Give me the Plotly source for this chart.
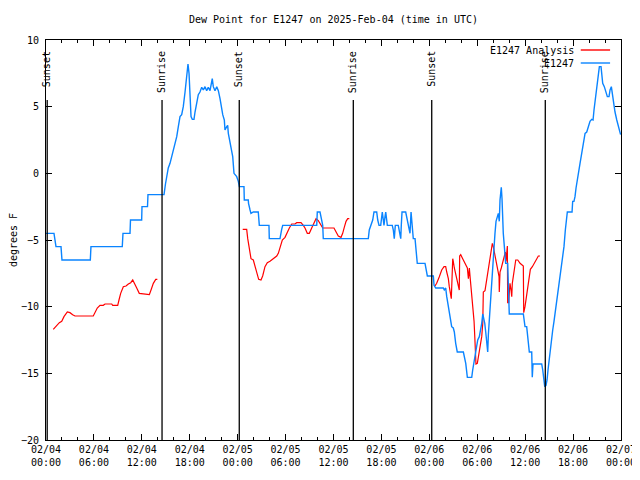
import pandas as pd
import plotly.graph_objects as go

BASE = pd.Timestamp("2025-02-04 00:00")

# E1247 observations (hours since 2025-02-04 00:00 UTC, degrees F)
obs_hours = [0, 1.0, 1.25, 1.88, 2.0, 5.55, 5.63, 9.55, 9.64, 10.52, 10.58, 11.98, 12.02, 12.71, 12.77, 14.78,
             14.96, 15.12, 15.31, 15.53, 15.74, 15.94, 16.15, 16.37, 16.57, 16.78, 16.99, 17.19, 17.41, 17.62, 17.78,
             17.91, 18.03, 18.16, 18.32, 18.53, 18.66, 18.87, 19.07, 19.28, 19.50, 19.70, 19.91, 20.12, 20.32, 20.54,
             20.75, 20.82, 20.95, 21.16, 21.38, 21.58, 21.79, 22.0, 22.13, 22.33, 22.41, 22.63, 22.75, 22.83, 23.04,
             23.25, 23.38, 23.54, 23.88, 24.08, 24.21, 24.79, 24.83, 25.33, 25.36, 25.55, 25.67, 25.96, 26.58, 26.71,
             27.92, 27.96, 29.30, 29.51, 29.64, 33.90, 33.97, 34.31, 34.40, 34.65, 34.72, 40.36, 40.48, 40.66, 40.91,
             41.07, 41.41, 41.54, 41.70, 41.91, 42.04, 42.11, 42.24, 42.32, 42.45, 42.54, 42.66, 42.74, 43.36, 43.49,
             43.61, 43.74, 44.11, 44.24, 44.42, 44.49, 44.58, 45.04, 45.17, 45.29, 45.45, 45.58, 45.71, 45.83, 45.99,
             46.21, 46.33, 46.49, 47.46, 47.58, 47.75, 48.50, 48.59, 48.80, 49.75, 49.87, 50.05, 50.18, 50.38, 50.50,
             50.68, 50.80, 51.0, 51.13, 51.30, 51.50, 52.26, 52.38, 52.56, 52.76, 53.31, 53.43, 53.60, 53.72, 53.94,
             54.06, 54.26, 54.44, 54.56, 54.69, 54.81, 54.94, 55.06, 55.19, 55.31, 55.39, 55.51, 55.60, 55.72, 55.89,
             56.01, 56.22, 56.35, 56.51, 56.64, 56.76, 56.85, 57.01, 57.10, 57.26, 57.39, 57.56, 57.81, 57.89, 58.01,
             59.77, 59.86, 59.98, 60.19, 60.27, 60.39, 60.52, 60.82, 60.89, 60.98, 62.07, 62.20, 62.32, 62.45, 62.61,
             62.74, 62.86, 62.99, 63.11, 63.28, 63.45, 63.61, 63.74, 63.86, 64.03, 64.20, 64.36, 64.53, 64.70, 64.86,
             65.03, 65.20, 65.28, 65.87, 65.95, 66.11, 66.24, 66.37, 66.53, 66.71, 66.87, 67.08, 67.28, 67.50, 67.71,
             67.91, 68.12, 68.34, 68.50, 68.62, 68.79, 68.96, 69.16, 69.29, 69.50, 69.58, 69.71, 69.91, 70.12, 70.29,
             70.50, 70.63, 70.79, 70.92, 71.04, 71.25, 71.47, 71.67, 71.80, 71.95]
obs_values = [-4.5, -4.5, -5.5, -5.5, -6.5, -6.5, -5.5, -5.5, -4.5, -4.5, -3.5, -3.5, -2.5, -2.5, -1.6, -1.6,
              -0.8, -0.25, 0.4, 0.75, 1.25, 1.5, 2.1, 2.75, 3.5, 4.25, 4.4, 5.0, 6.1, 7.5, 8.2,
              7.5, 5.5, 4.25, 4.05, 4.05, 4.6, 5.4, 5.9, 6.1, 6.45, 6.25, 6.5, 6.2, 6.45, 6.2,
              6.75, 7.1, 6.5, 6.2, 6.5, 6.2, 5.6, 4.75, 4.4, 4.0, 3.25, 3.5, 3.6, 3.0, 2.25,
              1.75, 1.25, 0.0, -0.25, -0.6, -1.0, -1.0, -2.0, -2.0, -2.25, -2.75, -3.0, -2.9, -2.9, -3.9,
              -3.9, -4.9, -4.9, -4.2, -3.9, -3.9, -2.9, -2.9, -3.25, -3.9, -4.9, -4.9, -4.25, -3.9, -3.5,
              -2.9, -2.9, -3.5, -3.9, -3.9, -3.25, -2.9, -3.5, -3.9, -3.25, -2.9, -3.5, -3.9, -3.9, -4.25,
              -4.9, -3.9, -3.9, -4.25, -4.9, -3.9, -2.9, -2.9, -3.25, -3.6, -4.25, -4.5, -2.9, -3.75, -4.9,
              -4.9, -5.75, -6.75, -6.75, -7.25, -7.7, -7.7, -8.4, -8.6, -8.6, -8.75, -8.6, -9.25, -9.9, -10.4,
              -11.0, -11.5, -11.6, -11.9, -12.75, -13.4, -13.4, -13.75, -14.25, -15.3, -15.3, -14.75, -14.1, -13.5, -13.0,
              -12.5, -12.25, -11.75, -11.25, -10.55, -10.9, -11.25, -11.9, -12.9, -13.4, -12.1, -11.0, -9.5, -8.5, -7.5,
              -5.75, -4.5, -3.6, -3.25, -3.0, -3.6, -2.0, -1.05, -1.9, -4.5, -5.75, -6.75, -6.75, -8.25, -10.55,
              -10.55, -11.1, -11.5, -11.5, -12.0, -12.75, -13.4, -13.4, -15.3, -14.3, -14.3, -14.75, -15.5, -16.0, -15.9,
              -15.5, -14.75, -14.0, -13.25, -12.5, -11.75, -11.1, -10.5, -9.9, -9.25, -8.5, -7.75, -6.75, -6.1, -5.5,
              -4.25, -3.5, -2.9, -2.9, -2.1, -2.1, -1.75, -1.1, -0.4, 0.25, 0.75, 1.5, 2.25, 3.0, 3.1,
              3.6, 3.9, 4.05, 4.0, 4.75, 5.6, 6.6, 7.5, 8.0, 8.0, 7.6, 6.75, 6.5, 6.1, 5.75,
              5.75, 6.25, 6.5, 5.9, 5.5, 4.6, 4.0, 3.5, 3.1, 2.9]

# E1247 Analysis (None separates the gaps)
ana_hours = [0.91, 1.25, 1.67, 1.97, 2.25, 2.67, 3.0, 3.34, 3.63, 5.92, 6.14, 6.42, 6.76, 7.17, 7.39, 8.23, 8.35,
             8.98, 9.14, 9.35, 9.68, 10.02, 10.31, 10.61, 10.86, 11.06, 11.36, 11.68, 12.11, 12.52, 12.94, 13.15,
             13.44, 13.74, 13.94, None,
             24.63, 25.13, 25.26, 25.46, 25.67, 25.96, 26.17, 26.38, 26.63, 26.92, 27.13, 27.42, 27.71, 28.05, 28.46,
             28.89, 29.09, 29.30, 29.59, 29.93, 30.14, 30.47, 30.77, 31.18, 31.39, 31.93, 32.22, 32.43, 32.72, 32.97,
             33.27, 33.56, 33.81, 34.10, 34.31, 34.52, 34.65, 36.06, 36.31, 36.60, 36.94, 37.15, 37.35, 37.57, 37.78,
             37.98, None,
             48.71, 48.92, 49.25, 49.55, 49.84, 50.05, 50.18, 50.38, 50.50, 50.68, 50.75, 50.84, 50.93, 51.00, 51.13,
             51.30, 51.50, 51.68, 51.75, 51.80, 51.93, 52.13, 52.34, 52.56, 52.76, 52.89, 53.01, 53.10, 53.22, 53.34,
             53.47, 53.60, 53.68, 53.76, 53.84, 54.01, 54.13, 54.26, 54.43, 54.56, 54.69, 54.76, 54.97, 55.10, 55.31,
             55.47, 55.60, 55.76, 55.89, 56.01, 56.14, 56.31, 56.44, 56.60, 56.73, 56.76, 56.85, 57.01, 57.19, 57.35,
             57.52, 57.60, 57.69, 57.77, 57.81, 57.94, 58.01, 58.10, 58.23, 58.32, 58.39, 58.52, 58.64, 58.82, 59.07,
             59.36, 59.77, 59.82, 59.98, 60.11, 60.19, 60.32, 60.48, 60.65, 60.90, 61.15, 61.45, 61.65, 61.86]
ana_values = [-11.7, -11.45, -11.2, -11.1, -10.75, -10.4, -10.45, -10.6, -10.7, -10.7, -10.45, -10.1, -9.9, -9.9, -9.8,
              -9.8, -9.9, -9.9, -9.5, -9.0, -8.5, -8.45, -8.3, -8.2, -8.0, -8.3, -8.6, -9.0, -9.05, -9.1, -9.1, -8.75,
              -8.25, -7.95, -7.95, None,
              -4.2, -4.2, -4.9, -5.5, -6.4, -6.5, -7.0, -7.5, -7.95, -8.0, -7.7, -7.0, -6.7, -6.6, -6.4,
              -6.2, -6.0, -5.6, -5.0, -4.8, -4.5, -4.1, -3.8, -3.8, -3.7, -3.7, -3.9, -4.1, -4.5, -4.5,
              -4.1, -3.75, -3.4, -3.55, -3.75, -3.9, -4.1, -4.1, -4.35, -4.7, -4.8, -4.5, -4.05, -3.6, -3.4,
              -3.4, None,
              -8.45, -8.25, -7.75, -7.25, -7.0, -7.0, -7.4, -7.9, -8.5, -9.1, -9.4, -7.9, -6.4, -6.6, -7.1,
              -7.6, -8.1, -8.5, -8.75, -6.2, -6.1, -6.35, -6.6, -6.85, -7.1, -7.9, -7.1, -7.75, -8.5, -9.4,
              -10.25, -11.1, -12.1, -13.25, -14.3, -14.25, -13.75, -13.4, -12.9, -12.25, -11.25, -8.9, -8.8, -8.3, -7.6,
              -7.0, -6.4, -5.6, -5.25, -5.5, -5.9, -6.4, -6.75, -7.25, -7.75, -8.9, -7.4, -7.1, -6.6, -6.25,
              -5.9, -6.6, -5.75, -5.45, -9.7, -9.7, -9.0, -8.25, -8.75, -9.25, -8.25, -7.75, -7.0, -6.5, -6.5,
              -6.75, -6.95, -10.45, -10.0, -9.5, -9.0, -8.4, -7.75, -7.2, -7.0, -6.75, -6.45, -6.2, -6.2]

# Sun events (hours since start)
event_hours = [0.15, 14.53, 24.2, 38.48, 48.3, 62.52]
event_labels = ["Sunset", "Sunrise", "Sunset", "Sunrise", "Sunset", "Sunrise"]

tick_hours = [0, 6, 12, 18, 24, 30, 36, 42, 48, 54, 60, 66, 72]
tick_labels = ["02/04<br>00:00", "02/04<br>06:00", "02/04<br>12:00", "02/04<br>18:00",
               "02/05<br>00:00", "02/05<br>06:00", "02/05<br>12:00", "02/05<br>18:00",
               "02/06<br>00:00", "02/06<br>06:00", "02/06<br>12:00", "02/06<br>18:00",
               "02/07<br>00:00"]


def to_time(hours):
    return [None if h is None else BASE + pd.Timedelta(hours=h) for h in hours]


FONT = "DejaVu Sans Mono"
FS = 10
BLUE = "#0a84ff"
RED = "#ff0000"
W, H = 632, 464  # page body has an 8px margin

fig = go.Figure()
fig.add_trace(go.Scatter(x=to_time(ana_hours), y=ana_values, mode="lines", name="E1247 Analysis",
                         line=dict(color=RED, width=1.2), connectgaps=False, showlegend=False))
fig.add_trace(go.Scatter(x=to_time(obs_hours), y=obs_values, mode="lines", name="E1247",
                         line=dict(color=BLUE, width=1.4), showlegend=False))

for h, lab in zip(event_hours, event_labels):
    t = BASE + pd.Timedelta(hours=h)
    fig.add_shape(type="line", xref="x", yref="paper", x0=t, x1=t, y0=0, y1=0.85,
                  line=dict(color="black", width=1.3))
    fig.add_annotation(x=t, xref="x", y=0.9775, yref="paper", text=lab, textangle=-90,
                       showarrow=False, xanchor="center", yanchor="top",
                       font=dict(family=FONT, size=FS, color="black"))

# gnuplot-style legend (text left of line sample)
legend_items = [("E1247 Analysis", RED, 0.975), ("E1247", BLUE, 0.9425)]
for name, col, yy in legend_items:
    fig.add_annotation(x=0.921, xref="paper", y=yy, yref="paper", text=name, showarrow=False,
                       xanchor="right", yanchor="middle", font=dict(family=FONT, size=FS, color="black"))
    fig.add_shape(type="line", xref="paper", yref="paper", x0=0.93, x1=0.981, y0=yy, y1=yy,
                  line=dict(color=col, width=1.4))

fig.update_layout(
    width=W, height=H,
    margin=dict(l=38, r=19, t=32, b=32, autoexpand=False),
    paper_bgcolor="white", plot_bgcolor="white",
    font=dict(family=FONT, size=FS, color="black"),
    title=dict(text="Dew Point for E1247 on 2025-Feb-04 (time in UTC)", x=0.5, xanchor="center",
               xref="paper", y=1 - 11 / H, yanchor="middle", automargin=False,
               font=dict(family=FONT, size=FS)),
    showlegend=False,
)
fig.update_xaxes(
    type="date", automargin=False,
    range=[BASE, BASE + pd.Timedelta(hours=72)],
    tickvals=to_time(tick_hours), ticktext=tick_labels,
    ticks="inside", ticklen=6, tickcolor="black", tickwidth=1,
    minor=dict(dtick=2 * 3600 * 1000, ticks="inside", ticklen=3, tickcolor="black", showgrid=False),
    showline=True, linecolor="black", linewidth=1, mirror="ticks",
    showgrid=False, zeroline=False,
    tickfont=dict(family=FONT, size=FS),
)
fig.update_yaxes(
    automargin=False,
    range=[-20, 10], dtick=5, tick0=-20,
    ticks="inside", ticklen=6, tickcolor="black", tickwidth=1,
    showline=True, linecolor="black", linewidth=1, mirror="ticks",
    showgrid=False, zeroline=False,
    ticklabelstandoff=4,
    title=dict(text="degrees F", standoff=10, font=dict(family=FONT, size=FS)),
    tickfont=dict(family=FONT, size=FS),
)

fig.write_html("out.html")
